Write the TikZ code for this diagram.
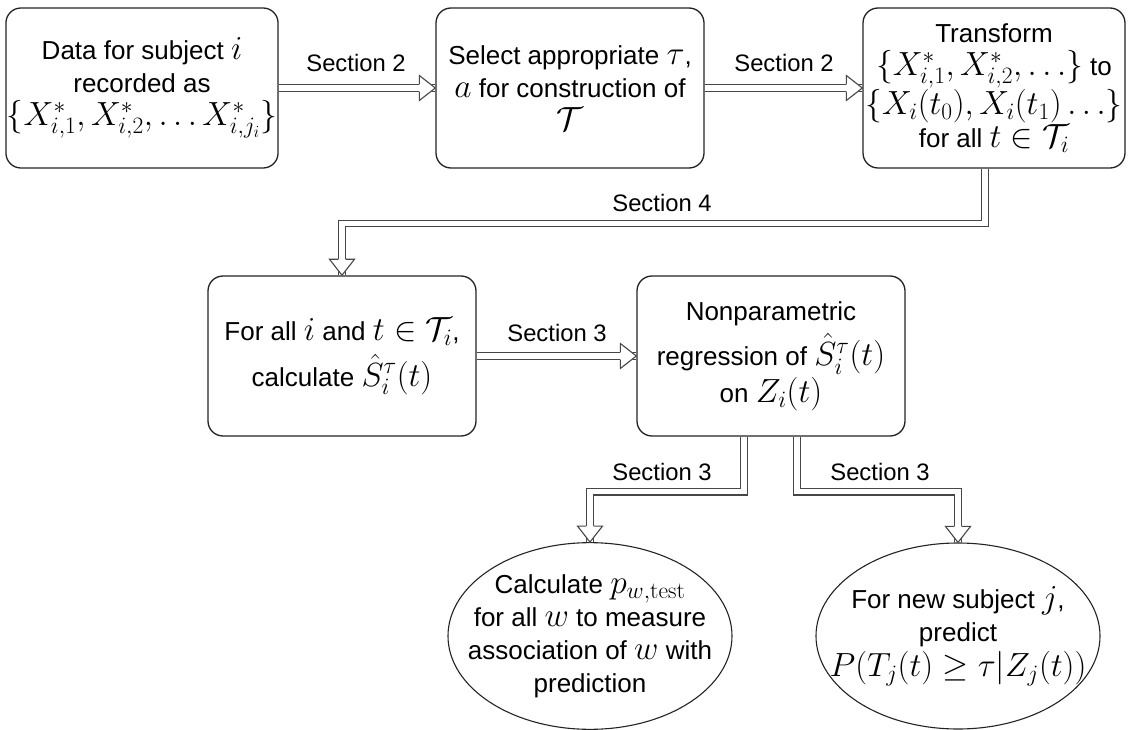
\RequirePackage{fix-cm}
\documentclass[tikz,border=0pt]{standalone}
\usepackage[no-math]{fontspec}
\setmainfont{Liberation Sans}
\usepackage{amsmath,amssymb}
\usepackage{tikz}
\usetikzlibrary{shapes.geometric}
\usetikzlibrary{decorations.markings}
\DeclareMathSizes{26}{33.5}{23.5}{17}
\definecolor{linegray}{RGB}{70,70,70}
\definecolor{boxline}{RGB}{35,35,35}
\tikzset{
    stepbox/.style={draw=boxline, line width=1.3pt, rounded corners=15pt,
        minimum width=268pt, minimum height=160pt, align=center, inner sep=1pt,
        font=\fontsize{26pt}{33pt}\selectfont},
    endoval/.style={draw=boxline, line width=1.1pt, ellipse, minimum width=284pt,
        minimum height=186pt, inner sep=0pt, font=\fontsize{26pt}{33pt}\selectfont},
    seclabel/.style={font=\fontsize{23.8pt}{28pt}\selectfont, inner sep=0pt},
    secline/.style={draw=linegray, line width=1.1pt, double=white, double distance=5.5pt,
        postaction={decorate},
        decoration={markings, mark=at position 0.9999 with {
            \fill[white] (0.5pt,0pt) -- (-16pt,12.5pt) -- (-16pt,-12.5pt) -- cycle;
            \draw[draw=linegray, line width=1.1pt, line join=miter]
                (-16pt,3.9pt) -- (-16pt,12.5pt) -- (0pt,0pt) -- (-16pt,-12.5pt) -- (-16pt,-3.9pt);}}},
}

\begin{document}
\begin{tikzpicture}[x=1pt, y=-1pt]
\useasboundingbox (0,0) rectangle (1128,730);
% top row
\node[stepbox] (data) at (142,88) {Data for subject $i$\\recorded as\\$\{X^*_{i,1},X^*_{i,2},\ldots X^*_{i,j_i}\}$};
\node[stepbox] (select) at (570,88) {Select appropriate $\tau$,\\$a$ for construction of\\$\mathcal{T}$};
\node[stepbox, minimum width=262pt] (transform) at (994,88) {Transform\\$\{X^*_{i,1},X^*_{i,2},\ldots\}$ to\\$\{X_i(t_0),X_i(t_1)\ldots\}$\\for all $t\in\mathcal{T}_i$};
% middle row
\node[stepbox] (forall) at (342,356) {For all $i$ and $t\in\mathcal{T}_i$,\\[8pt]calculate $\hat{S}^{\tau}_i(t)$};
\node[stepbox] (nonpar) at (771,356) {Nonparametric\\[7pt]regression of $\hat{S}^{\tau}_i(t)$\\[2pt]on $Z_i(t)$};
% bottom row
\node[endoval] (calc) at (590,636) {\makebox[0pt]{\begin{tabular}{@{}c@{}}Calculate $p_{w,\mathrm{test}}$\\for all $w$ to measure\\association of $w$ with\\prediction\end{tabular}}};
\node[endoval] (predict) at (958,636) {\makebox[0pt]{\begin{tabular}{@{}c@{}}For new subject $j$,\\predict\\$P(T_j(t)\geq\tau|Z_j(t))$\end{tabular}}};

\draw[secline] (data) -- (select);
\draw[secline] (select) -- (transform);
\draw[secline] ([xshift=-9pt]transform.south) -- ++(0,55) -| (forall.north);
\draw[secline] (forall) -- (nonpar);
\draw[secline] ([xshift=-27pt]nonpar.south) -- ++(0,55) -| (calc.north);
\draw[secline] ([xshift=26pt]nonpar.south) -- ++(0,55) -| (predict.north);

\node[seclabel] (sec2a) at (356,63) {Section 2};
\node[seclabel] (sec2b) at (784,63) {Section 2};
\node[seclabel] (sec4) at (662,203) {Section 4};
\node[seclabel] (sec3a) at (557,333) {Section 3};
\node[seclabel] (sec3b) at (662,472) {Section 3};
\node[seclabel] (sec3c) at (880,472) {Section 3};
\end{tikzpicture}
\end{document}
